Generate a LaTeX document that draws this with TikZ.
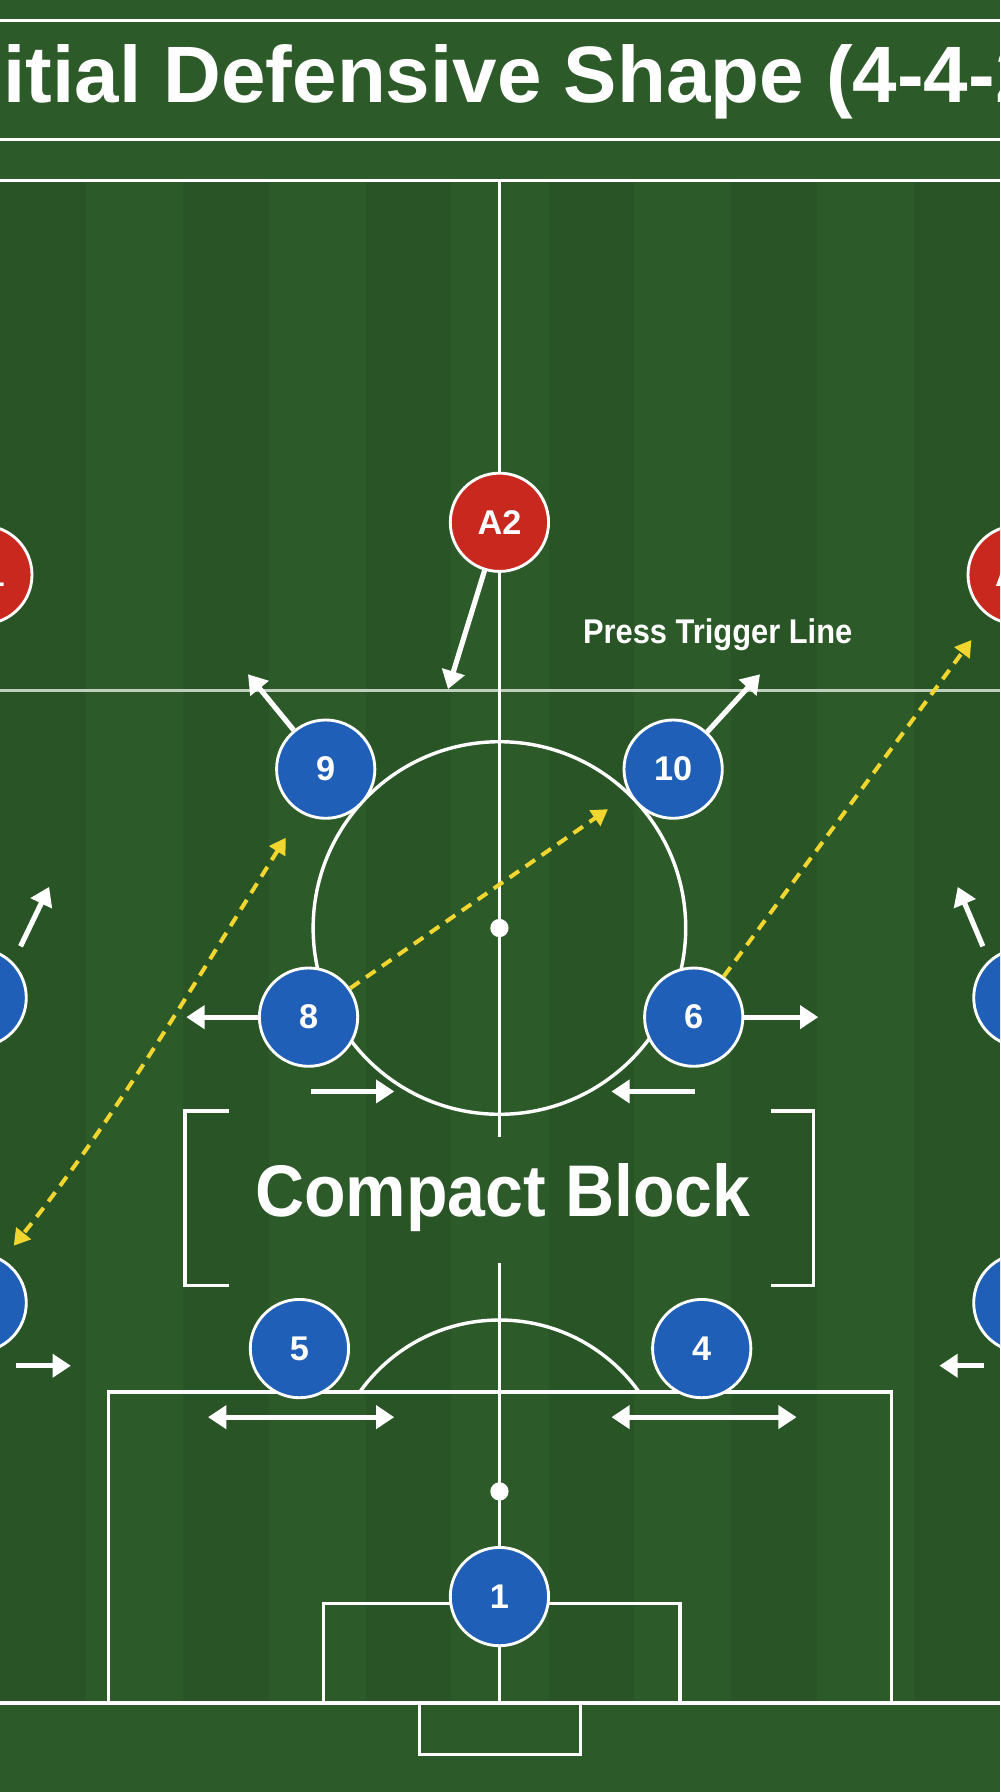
\documentclass[tikz,border=0pt]{standalone}
\usepackage{fontspec}
\setmainfont{Liberation Sans}
\usetikzlibrary{arrows.meta}
\definecolor{grass}{HTML}{2D5A29}
\definecolor{grassd}{HTML}{295426}
\definecolor{pblue}{HTML}{1F5FB8}
\definecolor{pred}{HTML}{C8281E}
\definecolor{yel}{HTML}{F2D630}
\tikzset{
 pline/.style={white,line width=3pt},
 player/.style={circle,draw=white,line width=2.5pt,minimum size=86pt,inner sep=0pt,font=\bfseries\fontsize{30}{30}\selectfont,text=white},
 blue/.style={player,fill=pblue},
 red/.style={player,fill=pred},
 warr/.style={white,line width=4.5pt,-{Triangle[length=16pt,width=20pt]}},
 wdarr/.style={white,line width=4.5pt,{Triangle[length=16pt,width=20pt]}-{Triangle[length=16pt,width=20pt]}},
 yarr/.style={yel,line width=3.5pt,dash pattern=on 10pt off 7pt,-{Triangle[length=14pt,width=16pt]}},
}
\begin{document}
\begin{tikzpicture}[x=1pt,y=-1pt]
\useasboundingbox (0,0) rectangle (875,1568);
\clip (0,0) rectangle (875,1568);
\fill[grass] (0,0) rectangle (875,1568);
\foreach \i in {0,2,4,6,8,10}{\fill[grassd] (\i*80,158) rectangle (\i*80+75,1490);}
% title
\draw[white,line width=2pt] (-5,18) -- (880,18) (-5,122) -- (880,122);
\node[text=white,font=\bfseries\fontsize{70}{70}\selectfont] (title) at (437,72) {Initial Defensive Shape (4-4-2)};
% pitch
\draw[pline] (-5,158) -- (880,158);
\draw[pline] (-5,1490) -- (880,1490);
\draw[white!70!grass,line width=3pt] (-5,604) -- (880,604);
\node[text=white,font=\bfseries\fontsize{30}{30}\selectfont,xscale=0.9] (ptl) at (628,555) {Press Trigger Line};
\draw[pline] (437,158) -- (437,995);
\draw[pline] (437,1105) -- (437,1490);
\draw[pline] (437,812) circle[radius=163];
\fill[white] (437,812) circle[radius=8];
\draw[pline] (95,1490) -- (95,1218) -- (780,1218) -- (780,1490);
\draw[pline] (283,1490) -- (283,1403) -- (595,1403) -- (595,1490);
\draw[pline] (367,1490) -- (367,1535) -- (508,1535) -- (508,1490);
\begin{scope}
\clip (0,0) rectangle (875,1218);
\draw[pline] (437,1305) circle[radius=150];
\end{scope}
\fill[white] (437,1305) circle[radius=8];
% compact block
\draw[pline] (200,972) -- (162,972) -- (162,1125) -- (200,1125);
\draw[pline] (675,972) -- (712,972) -- (712,1125) -- (675,1125);
\node[text=white,font=\bfseries\fontsize{64}{64}\selectfont,xscale=0.93] (cb) at (440,1048) {Compact Block};
% players
\node[red] (A2) at (437,457) {A2};
\node[red] (A1) at (-15,503) {A1};
\node[red] (A3) at (890,503) {A3};
\node[blue] (p9) at (285,673) {9};
\node[blue] (p10) at (589,673) {10};
\node[blue] (p8) at (270,890) {8};
\node[blue] (p6) at (607,890) {6};
\node[blue] (p5) at (262,1180) {5};
\node[blue] (p4) at (614,1180) {4};
\node[blue] (p1) at (437,1397) {1};
\node[blue] (p11) at (-20,873) {11};
\node[blue] (p7) at (895,873) {7};
\node[blue] (p3) at (-20,1140) {3};
\node[blue] (p2) at (895,1140) {2};
% arrows
\coordinate (a2e) at (392,603);
\draw[warr] (A2) -- (a2e);
\coordinate (e9) at (217,590); \draw[warr] (p9) -- (e9);
\coordinate (e10) at (665,590); \draw[warr] (p10) -- (e10);
\coordinate (e8) at (163,890); \draw[warr] (p8) -- (e8);
\coordinate (e6) at (716,890); \draw[warr] (p6) -- (e6);
\coordinate (s8) at (272,955); \coordinate (t8) at (345,955); \draw[warr] (s8) -- (t8);
\coordinate (s6) at (608,955); \coordinate (t6) at (535,955); \draw[warr] (s6) -- (t6);
\coordinate (l5) at (182,1240); \coordinate (r5) at (345,1240); \draw[wdarr] (l5) -- (r5);
\coordinate (l4) at (535,1240); \coordinate (r4) at (697,1240); \draw[wdarr] (l4) -- (r4);
\coordinate (e3) at (62,1195); \draw[warr] (p3.east |- e3) ++(-10,0) -- (e3);
\coordinate (e2) at (822,1195); \draw[warr] (p2.west |- e2) ++(10,0) -- (e2);
\coordinate (e11) at (43,776); \draw[warr] (p11) ++(38,-45) -- (e11);
\coordinate (e7) at (838,776); \draw[warr] (p7) ++(-35,-45) -- (e7);
% yellow
\coordinate (y8) at (532,708); \draw[yarr] (p8) -- (y8);
\coordinate (y6) at (850,560); \draw[yarr] (p6) -- (y6);
\coordinate (ya) at (250,733); \coordinate (yb) at (12,1090);
\draw[yarr,{Triangle[length=14pt,width=16pt]}-{Triangle[length=14pt,width=16pt]}] (ya) .. controls (170,860) and (100,980) .. (yb);
\end{tikzpicture}
\end{document}
